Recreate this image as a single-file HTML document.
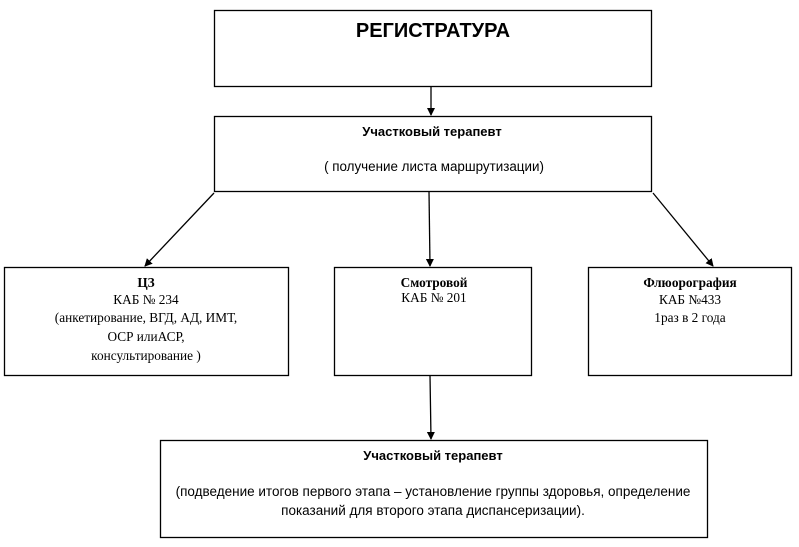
<!DOCTYPE html>
<html><head><meta charset="utf-8"><style>
body{margin:0;background:#fff;}
svg text{font-family:"Liberation Sans","DejaVu Sans",sans-serif;}
.s{font-family:"Liberation Serif","DejaVu Serif",serif !important;}
</style></head><body>
<svg width="799" height="542" viewBox="0 0 799 542" xmlns="http://www.w3.org/2000/svg">
<defs><marker id="a" markerWidth="8" markerHeight="8" refX="7" refY="4" orient="auto" markerUnits="userSpaceOnUse"><path d="M0,0 L8,4 L0,8 z" fill="#000"/></marker></defs>
<g fill="none" stroke="#000" stroke-width="1.3">
<rect x="214.5" y="10.5" width="437" height="76"/>
<rect x="214.5" y="116.5" width="437" height="75"/>
<rect x="4.5" y="267.5" width="284" height="108"/>
<rect x="334.5" y="267.5" width="197" height="108"/>
<rect x="588.5" y="267.5" width="203" height="108"/>
<rect x="160.5" y="440.5" width="547" height="97"/>
<line x1="431" y1="86" x2="431" y2="115" marker-end="url(#a)"/>
<line x1="214" y1="193" x2="145" y2="266" marker-end="url(#a)"/>
<line x1="429" y1="191" x2="430" y2="266" marker-end="url(#a)"/>
<line x1="653" y1="193" x2="713" y2="266" marker-end="url(#a)"/>
<line x1="430" y1="375" x2="431" y2="439" marker-end="url(#a)"/>
</g>
<g text-anchor="middle" fill="#000">
<text x="433" y="37" font-size="20" font-weight="bold">РЕГИСТРАТУРА</text>
<text x="432" y="136" font-size="13" font-weight="bold">Участковый терапевт</text>
<text x="434" y="171" font-size="13.4">(  получение листа маршрутизации)</text>
<text class="s" x="146" y="287" font-size="13.3" font-weight="bold">ЦЗ</text>
<text class="s" x="146" y="304" font-size="13.3">КАБ № 234</text>
<text class="s" x="146" y="322" font-size="13.3">(анкетирование, ВГД, АД, ИМТ,</text>
<text class="s" x="146" y="341" font-size="13.3">ОСР илиАСР,</text>
<text class="s" x="146" y="360" font-size="13.3">консультирование )</text>
<text class="s" x="434" y="287" font-size="13.3" font-weight="bold">Смотровой</text>
<text class="s" x="434" y="302" font-size="13.3">КАБ № 201</text>
<text class="s" x="690" y="287" font-size="13.3" font-weight="bold">Флюорография</text>
<text class="s" x="690" y="304" font-size="13.3">КАБ №433</text>
<text class="s" x="690" y="322" font-size="13.3">1раз в 2 года</text>
<text x="433" y="460" font-size="13" font-weight="bold">Участковый терапевт</text>
<text x="433" y="496" font-size="13.5">(подведение итогов первого этапа – установление группы здоровья, определение</text>
<text x="433" y="515" font-size="13.5">показаний для второго этапа диспансеризации).</text>
</g>
</svg>
</body></html>
